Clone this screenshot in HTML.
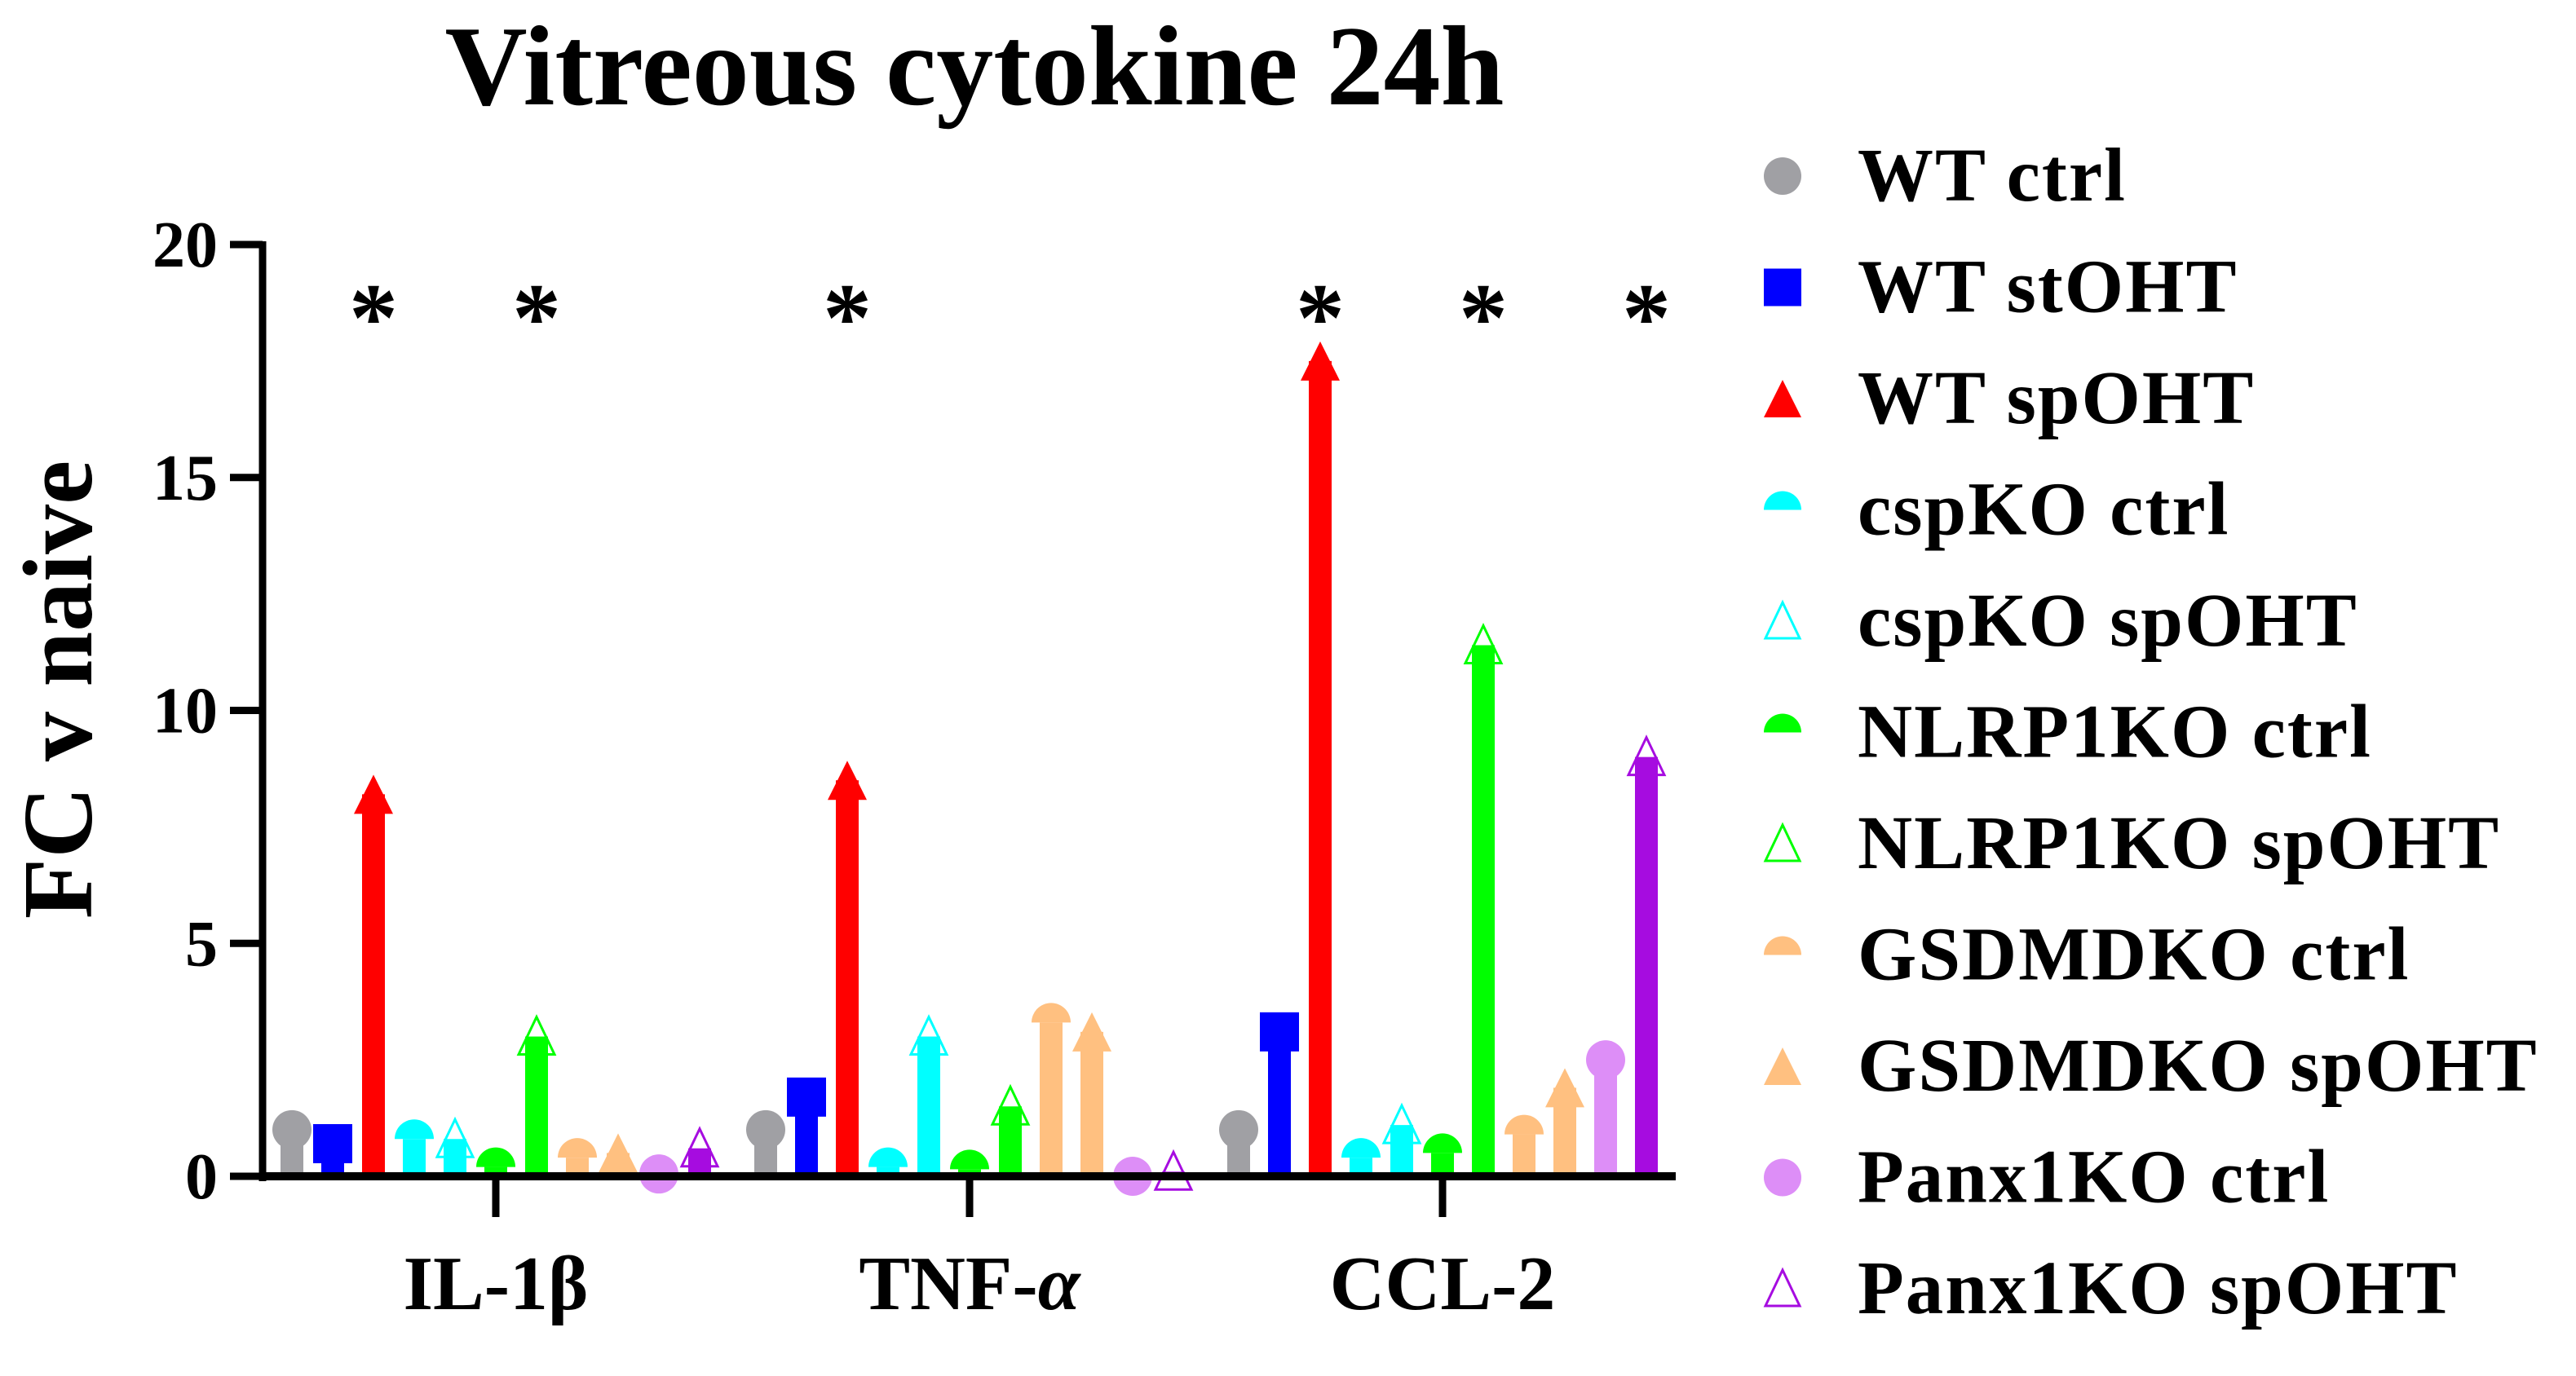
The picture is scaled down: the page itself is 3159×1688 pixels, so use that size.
<!DOCTYPE html>
<html><head><meta charset="utf-8"><style>
html,body{margin:0;padding:0;background:#fff;}
svg{display:block;font-family:"Liberation Serif",serif;font-weight:bold;}
</style></head><body>
<svg id="chart" width="3159" height="1688" viewBox="0 0 3159 1688" xmlns="http://www.w3.org/2000/svg">
<text x="1195" y="128" font-size="140" text-anchor="middle">Vitreous cytokine 24h</text>
<text transform="translate(112,846) rotate(-90)" font-size="122" text-anchor="middle">FC v naive</text>
<g id="plot"></g>
<g id="legend"></g>
</svg>
<script>
const categories = ["IL-1β","TNF-α","CCL-2"];
const seriesNames = ["WT ctrl","WT stOHT","WT spOHT","cspKO ctrl","cspKO spOHT","NLRP1KO ctrl","NLRP1KO spOHT","GSDMDKO ctrl","GSDMDKO spOHT","Panx1KO ctrl","Panx1KO spOHT"];
const il1bValues = [1.0,0.7,8.2,0.8,0.8,0.2,3.0,0.4,0.5,0.05,0.6];
const tnfValues = [1.0,1.7,8.5,0.2,3.0,0.15,1.5,3.3,3.1,0.0,0.1];
const ccl2Values = [1.0,3.1,17.5,0.4,1.1,0.5,11.4,0.9,1.9,2.5,9.0];
const yTicks = [0,5,10,15,20];
const significant = [[2,6],[2],[2,6,10]];
const colors = ["#a0a0a4","#0000ff","#ff0000","#00ffff","#00ffff","#00ff00","#00ff00","#ffc080","#ffc080","#dd8ef7","#a60ce0"];
const shapes = ["circle","square","triangle","half","otri","half","otri","half","tri2","circle","otri"];
const values = [il1bValues,tnfValues,ccl2Values];
const NS="http://www.w3.org/2000/svg";
const plot=document.getElementById('plot');
const legend=document.getElementById('legend');
const X0=322,X1=2055,Y0=1443,Y20=300;
const yScale=v=>Y0-(Y0-Y20)*v/20;
const groupCenters=[608,1189,1769];
const xScale=(g,i)=>groupCenters[g]+(i-5)*50;
function mk(tag,attrs,parent){const e=document.createElementNS(NS,tag);for(const k in attrs)e.setAttribute(k,attrs[k]);parent.appendChild(e);return e;}
function marker(shape,color,cx,cy,parent,s){
  let e;
  if(shape==="circle") e=mk('circle',{cx:cx,cy:cy,r:s/2,fill:color},parent);
  else if(shape==="square") e=mk('rect',{x:cx-s/2,y:cy-s/2,width:s,height:s,fill:color},parent);
  else if(shape==="triangle"||shape==="tri2") e=mk('polygon',{points:`${cx},${cy-s/2} ${cx-s/2},${cy+s/2} ${cx+s/2},${cy+s/2}`,fill:color},parent);
  else if(shape==="otri") e=mk('polygon',{points:`${cx},${cy-s/2} ${cx-s/2+2},${cy+s/2-2} ${cx+s/2-2},${cy+s/2-2}`,fill:'none',stroke:color,'stroke-width':3},parent);
  else { e=mk('path',{d:`M${cx-s/2},${cy} A${s/2},${s/2} 0 0 1 ${cx+s/2},${cy} Z`,fill:color},parent); }
  return e;
}
const ya=mk('line',{x1:X0,y1:Y20-4,x2:X0,y2:Y0+6,stroke:'#000','stroke-width':9},plot);


yTicks.forEach(t=>{
  const y=yScale(t);
  const l=mk('line',{x1:X0-40,y1:y,x2:X0,y2:y,stroke:'#000','stroke-width':9},plot);
  
  
  const tx=mk('text',{x:X0-55,y:y+27,'font-size':80,'text-anchor':'end'},plot);
  tx.textContent=t;
  
  
});
values.forEach((arr,g)=>{
  arr.forEach((v,i)=>{
    const x=xScale(g,i),y=yScale(v),c=colors[i];
    const b=mk('rect',{x:x-14,y:y,width:28,height:Math.max(0,Y0-y),fill:c},plot);
    
    
    const m=marker(shapes[i],c,x,y,plot,48);
    
    
  });
  significant[g].forEach(i=>{
    const s=mk('text',{x:xScale(g,i),y:430,'font-size':120,'text-anchor':'middle'},plot);
    s.textContent='*';
    
    
  });
});
const xa=mk('line',{x1:X0-4,y1:Y0,x2:X1,y2:Y0,stroke:'#000','stroke-width':10},plot);


categories.forEach((c,g)=>{
  const x=groupCenters[g];
  const t=mk('line',{x1:x,y1:Y0,x2:x,y2:Y0+50,stroke:'#000','stroke-width':9},plot);
  
  
  const tx=mk('text',{x:x,y:1606,'font-size':94,'text-anchor':'middle'},plot);
  if(c==="TNF-α"){tx.innerHTML='TNF-<tspan font-style="italic">α</tspan>';}else tx.textContent=c;
  
  
});
seriesNames.forEach((n,i)=>{
  const y=216+i*136.5;
  const g=mk('g',{},legend);
  
  
  marker(shapes[i],colors[i],2186,y,g,46);
  const t=mk('text',{x:2278,y:y+30,'font-size':93,'letter-spacing':2},g);
  t.textContent=n;
});
</script>
</body></html>
